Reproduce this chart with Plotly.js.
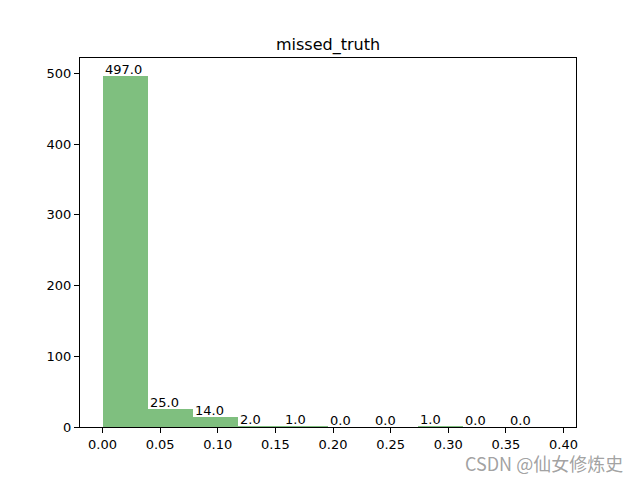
<!DOCTYPE html>
<html>
<head>
<meta charset="utf-8">
<script src="https://cdn.plot.ly/plotly-3.0.1.min.js"></script>
<style>body{margin:0;padding:0;background:#fff}</style>
</head>
<body>
<div id="chart" style="width:640px;height:480px"></div>
<script>
// Histogram data (10 bins)
const binStart = 0.0;
const binEnd = 0.3913;
const counts = [497, 25, 14, 2, 1, 0, 0, 1, 0, 0];
const chartTitle = "missed_truth";
const watermark = "CSDN @仙女修炼史";

const nBins = counts.length;
const binWidth = (binEnd - binStart) / nBins;
const binLefts = counts.map((_, i) => binStart + i * binWidth);

const trace = {
  type: "bar",
  x: binLefts,
  y: counts,
  width: binLefts.map(() => binWidth),
  offset: 0,
  marker: {color: "rgba(0,128,0,0.5)", line: {width: 0}},
  hoverinfo: "x+y"
};

const annotations = counts.map((c, i) => ({
  x: binLefts[i], y: c, xref: "x", yref: "y",
  text: c.toFixed(1), showarrow: false,
  xanchor: "left", yanchor: "bottom", yshift: -3,
  font: {family: "DejaVu Sans", size: 13, color: "#000"}
}));
annotations.push({
  x: 1.099, y: -0.098, xref: "paper", yref: "paper", xanchor: "right", yanchor: "middle",
  text: watermark, showarrow: false,
  font: {family: "Noto Sans CJK SC, DejaVu Sans", size: 18, color: "rgba(150,150,150,0.9)"}
});

const span = binEnd - binStart;
const layout = {
  width: 640, height: 480,
  margin: {l: 80, r: 64, t: 58, b: 53, pad: 0},
  paper_bgcolor: "#fff", plot_bgcolor: "#fff",
  showlegend: false,
  bargap: 0,
  title: {text: chartTitle, x: 0.5, xref: "paper", y: 1 - 44/480, yanchor: "middle",
          font: {family: "DejaVu Sans", size: 16, color: "#000"}},
  font: {family: "DejaVu Sans", size: 13, color: "#000"},
  xaxis: {
    range: [binStart - 0.05 * span, binEnd + 0.05 * span],
    tickvals: [0, 0.05, 0.1, 0.15, 0.2, 0.25, 0.3, 0.35, 0.4],
    tickformat: ".2f",
    ticks: "outside", ticklen: 5, tickwidth: 1, tickcolor: "#000",
    showline: true, linecolor: "#000", linewidth: 1, mirror: true,
    showgrid: false, zeroline: false,
    tickfont: {family: "DejaVu Sans", size: 13, color: "#000"}
  },
  yaxis: {
    range: [0, Math.max(...counts) * 1.05],
    dtick: 100,
    ticks: "outside", ticklen: 5, tickwidth: 1, tickcolor: "#000",
    showline: true, linecolor: "#000", linewidth: 1, mirror: true,
    showgrid: false, zeroline: false,
    tickfont: {family: "DejaVu Sans", size: 13, color: "#000"}
  },
  annotations: annotations
};

Plotly.newPlot("chart", [trace], layout, {displayModeBar: false, staticPlot: true});
</script>
</body>
</html>
